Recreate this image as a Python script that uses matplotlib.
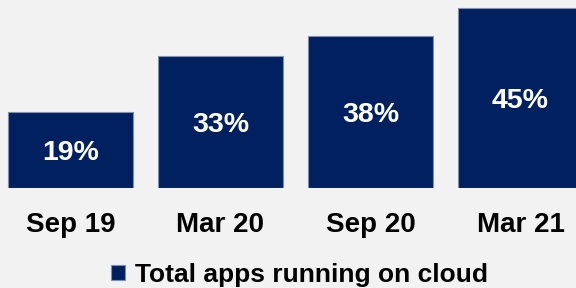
import matplotlib
matplotlib.use('Agg')
import matplotlib.pyplot as plt

plt.rcParams['font.family'] = ['Liberation Sans', 'DejaVu Sans']

periods = ['Sep 19', 'Mar 20', 'Sep 20', 'Mar 21']
cloud_share = [19, 33, 38, 45]
series_name = 'Total apps running on cloud'

navy = '#002060'
bg = '#f2f2f2'

fig = plt.figure(figsize=(5.76, 2.88), dpi=100, facecolor=bg)
ax = fig.add_axes([0, 0.346, 1, 0.654])
ax.set_facecolor(bg)

x = list(range(len(periods)))
bars = ax.bar(x, cloud_share, width=0.833, color=navy,
              edgecolor='#7f8fb0', linewidth=0.8, label=series_name)

# percent labels in the middle of each bar
for xi, v in zip(x, cloud_share):
    ax.text(xi, v / 2, f'{v}%', ha='center', va='center_baseline',
            color='white', fontsize=20.5, fontweight='bold')

ax.set_xlim(-0.47, 3.37)
ax.set_ylim(0, 47.08)
ax.set_xticks(x)
ax.set_xticklabels(periods, fontsize=20, fontweight='bold')
ax.tick_params(axis='x', length=0, pad=17)
ax.set_yticks([])
for s in ax.spines.values():
    s.set_visible(False)

fig.legend(handles=[bars], labels=[series_name], loc='center',
           bbox_to_anchor=(0.52, 0.045), frameon=False,
           prop={'size': 19, 'weight': 'bold'},
           handlelength=0.53, handleheight=0.53, handletextpad=0.38)

fig.savefig('out.png', dpi=100, facecolor=bg)
